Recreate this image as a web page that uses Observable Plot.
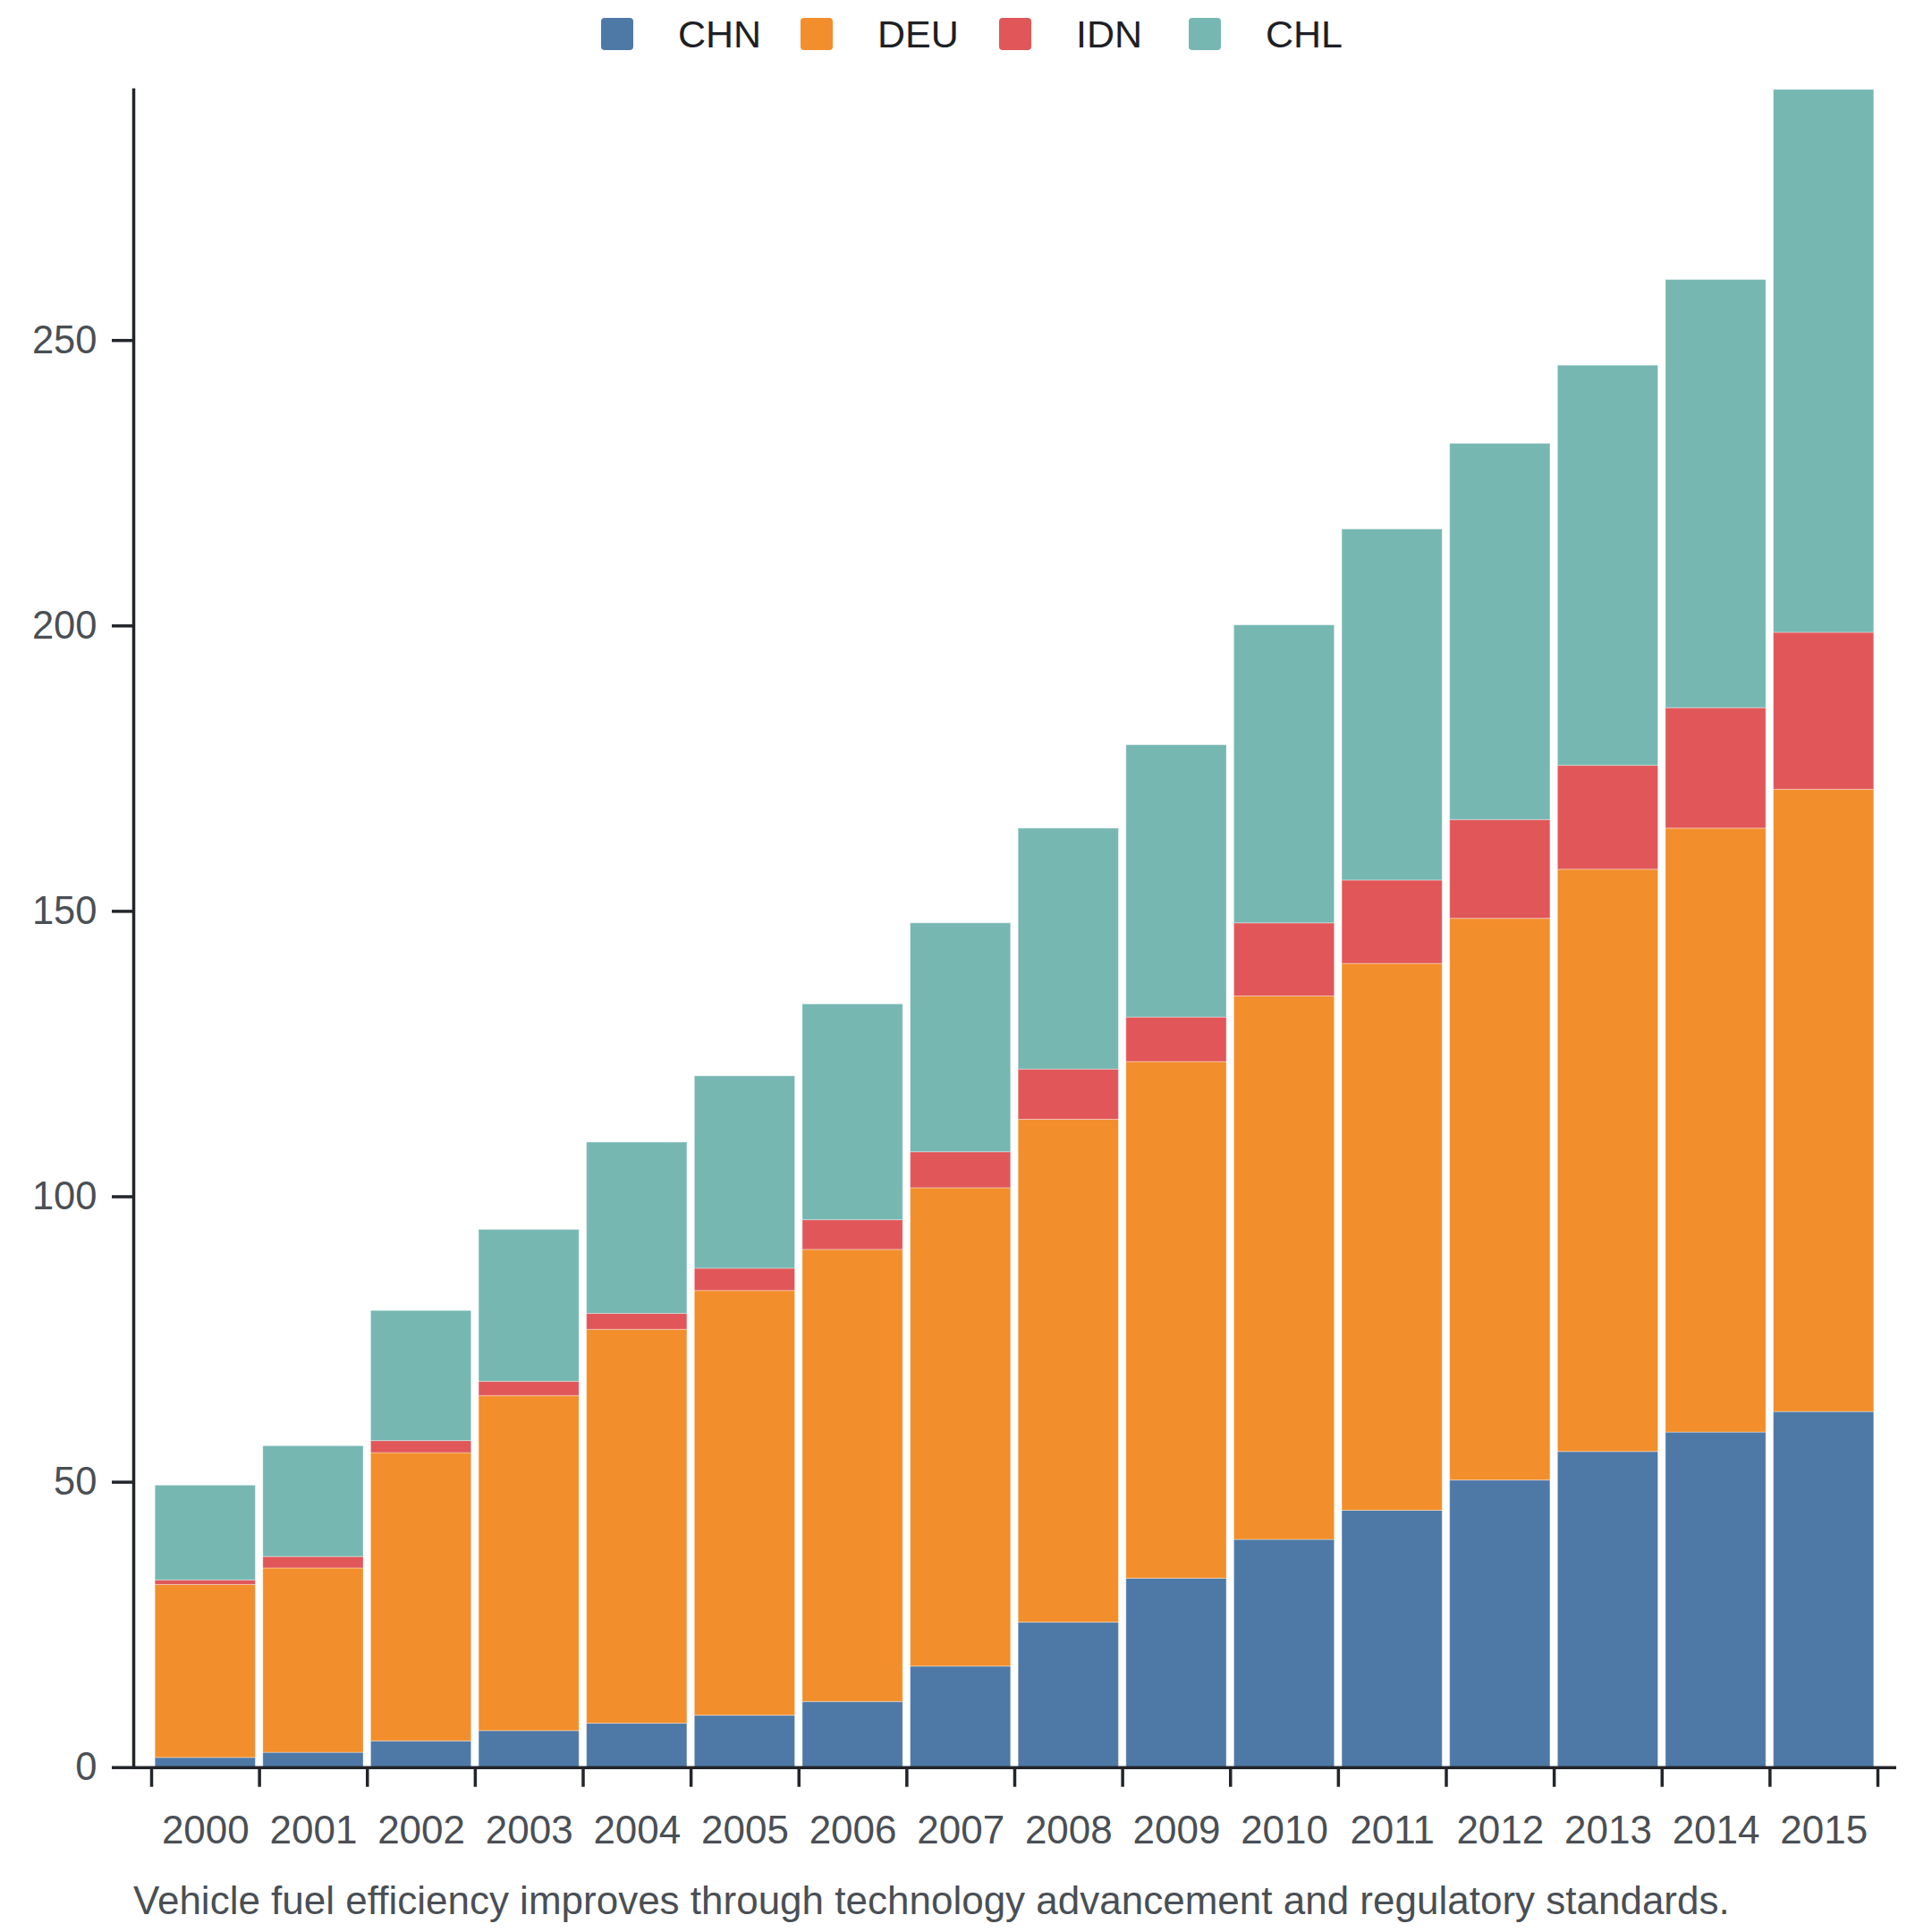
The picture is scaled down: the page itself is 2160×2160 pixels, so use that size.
<!DOCTYPE html>
<html>
<head>
<meta charset="utf-8">
<script src="https://cdn.jsdelivr.net/npm/d3@7"></script>
<script src="https://cdn.jsdelivr.net/npm/@observablehq/plot@0.6"></script>
<style>
  html, body { margin: 0; padding: 0; background: #fff; }
  body { width: 2160px; font-family: "Liberation Sans", Arial, Helvetica, sans-serif; }
  #legend { position: relative; height: 78px; }
  #legend .item { position: absolute; top: 20px; display: flex; align-items: center; height: 36px; }
  #legend .sw { width: 36px; height: 36px; border-radius: 4px; margin-right: 50px; }
  #legend .lab { font-size: 43px; color: #1d2025; line-height: 36px; white-space: nowrap; }
  #caption { margin-top: 15px; padding-left: 149px; font-size: 44px; line-height: 60px; color: #4a4f55; white-space: nowrap; }
  svg { display: block; }
</style>
</head>
<body>
<div id="legend"></div>
<div id="chart"></div>
<div id="caption"></div>
<script>
const years = [2000, 2001, 2002, 2003, 2004, 2005, 2006, 2007, 2008, 2009, 2010, 2011, 2012, 2013, 2014, 2015];
const tickYears = [2000, 2001, 2002, 2003, 2004, 2005, 2006, 2007, 2008, 2009, 2010, 2011, 2012, 2013, 2014, 2015, 2016];
const countries = ["CHN", "DEU", "IDN", "CHL"];
const chn = [1.7, 2.6, 4.6, 6.4, 7.7, 9.1, 11.5, 17.7, 25.4, 33.1, 39.9, 45.0, 50.3, 55.3, 58.7, 62.3];
const deu = [30.3, 32.3, 50.5, 58.7, 69.0, 74.4, 79.2, 83.8, 88.1, 90.5, 95.2, 95.8, 98.4, 102.0, 105.8, 109.0];
const idn = [0.8, 2.0, 2.1, 2.5, 2.8, 3.9, 5.2, 6.3, 8.8, 7.8, 12.8, 14.6, 17.3, 18.2, 21.1, 27.5];
const chl = [16.6, 19.4, 22.8, 26.6, 30.0, 33.7, 37.8, 40.1, 42.2, 47.7, 52.2, 61.5, 65.9, 70.1, 75.0, 95.1];
const yTicks = [0, 50, 100, 150, 200, 250];
const colors = ["#4e79a7", "#f28e2b", "#e15759", "#76b7b2"];
const captionText = "Vehicle fuel efficiency improves through technology advancement and regulatory standards.";

const series = [chn, deu, idn, chl];
const data = years.flatMap((yr, i) => countries.map((c, j) => ({year: yr, country: c, value: series[j][i]})));

const axisColor = "#22252a";
const labelColor = "#4a4f55";

const chart = Plot.plot({
  width: 2160,
  height: 2002,
  marginLeft: 149,
  marginRight: 40,
  marginTop: 22,
  marginBottom: 104.3,
  style: {fontFamily: "'Liberation Sans', Arial, Helvetica, sans-serif", fontSize: "44px", background: "white"},
  x: {domain: [2000, 2016], insetLeft: 20, insetRight: 21, label: null},
  y: {label: null},
  color: {domain: countries, range: colors},
  marks: [
    Plot.rectY(data, Plot.stackY({
      x1: "year", x2: d => d.year + 1, y: "value", fill: "country", order: countries,
      insetLeft: 4.2, insetRight: 4.2, stroke: "white", strokeOpacity: 0.35, strokeWidth: 1
    })),
    Plot.axisY({ticks: yTicks, tickSize: 24, tickPadding: 17, stroke: axisColor, strokeWidth: 3.5, fill: labelColor, fontSize: 43.5, label: null}),
    Plot.axisX({ticks: tickYears, tickSize: 22, tickFormat: () => "", stroke: axisColor, strokeWidth: 3.5, label: null}),
    Plot.axisX({ticks: years.map(y => y + 0.5), tickSize: 0, tickPadding: 54, tickFormat: d => String(d - 0.5), fill: labelColor, fontSize: 44, label: null}),
    Plot.ruleY([0], {stroke: axisColor, strokeWidth: 3.5}),
    Plot.frame({anchor: "left", stroke: axisColor, strokeWidth: 3.5})
  ]
});
document.getElementById("chart").appendChild(chart);

// legend layout (item left edges in px)
const legendLefts = [672, 895, 1117, 1329];
const legend = document.getElementById("legend");
countries.forEach((c, i) => {
  const item = document.createElement("div");
  item.className = "item";
  item.style.left = legendLefts[i] + "px";
  const sw = document.createElement("div");
  sw.className = "sw";
  sw.style.background = colors[i];
  const lab = document.createElement("div");
  lab.className = "lab";
  lab.textContent = c;
  item.appendChild(sw);
  item.appendChild(lab);
  legend.appendChild(item);
});
document.getElementById("caption").textContent = captionText;
</script>
</body>
</html>
